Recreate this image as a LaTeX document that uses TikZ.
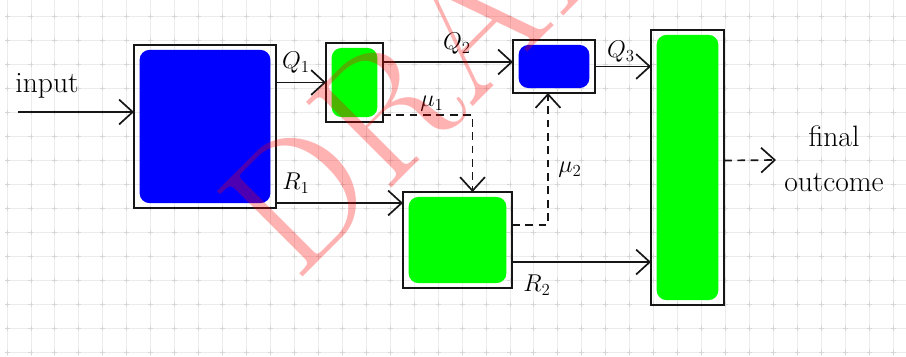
\documentclass[tikz,border=0pt]{standalone}
\usepackage{tikz}
\usetikzlibrary{arrows.meta,calc}
\definecolor{stift}{HTML}{161616}
\definecolor{blau}{HTML}{0000FF}
\definecolor{gruen}{HTML}{00FF00}
\definecolor{raster}{HTML}{ECECEC}
\definecolor{rasterk}{HTML}{D6D6D6}
\definecolor{entwurf}{HTML}{FF0000}
\tikzset{
  kasten/.style={draw=stift,line width=1.5pt,inner sep=0pt,outer sep=0pt},
  blaukasten/.style={kasten,path picture={\fill[blau,rounded corners=7pt]
      ([shift={(4pt,-3.5pt)}]path picture bounding box.north west) rectangle
      ([shift={(-4pt,3.5pt)}]path picture bounding box.south east);}},
  gruenkasten/.style={kasten,path picture={\fill[gruen,rounded corners=7pt]
      ([shift={(4pt,-3.5pt)}]path picture bounding box.north west) rectangle
      ([shift={(-4pt,3.5pt)}]path picture bounding box.south east);}},
  pfeil/.style={-{Straight Barb[length=3.4mm,width=6.2mm]},stift,line width=1.2pt},
  strich/.style={pfeil,dash pattern=on 5.5pt off 4pt},
  lbl/.style={inner sep=0pt,font=\fontsize{17}{17}\selectfont},
  hand/.style={inner sep=0pt,font=\fontsize{21}{32}\selectfont},
}

\begin{document}
\begin{tikzpicture}[x=0.025cm,y=-0.025cm]
  \clip (0,0) rectangle (906,356);
  \fill[white] (0,0) rectangle (906,356);
  \foreach \gx in {0,...,37}
    \draw[raster,line width=0.6pt] ({7+23.95*\gx},0) -- ({7+23.95*\gx},356);
  \foreach \gy in {0,...,14}
    \draw[raster,line width=0.6pt] (6,{16+24*\gy}) -- (906,{16+24*\gy});
  \foreach \gx in {0,...,37}
    \foreach \gy in {0,...,14}
      \draw[rasterk,line width=0.6pt] ({4.5+23.95*\gx},{16+24*\gy}) -- ++(5,0)
        ({7+23.95*\gx},{13.5+24*\gy}) -- ++(0,5);

  \node[blaukasten,minimum width=3.55cm,minimum height=4.075cm] (b1) at (205,126.5) {};
  \node[gruenkasten,minimum width=1.425cm,minimum height=1.975cm] (g1) at (354.5,82.5) {};
  \node[blaukasten,minimum width=2.05cm,minimum height=1.325cm] (b2) at (554,66.5) {};
  \node[gruenkasten,minimum width=2.725cm,minimum height=2.4cm] (g2) at (457.5,240) {};
  \node[gruenkasten,minimum width=1.825cm,minimum height=6.875cm] (g3) at (687.5,167.5) {};

  \coordinate (ein) at (18,112);
  \coordinate (q2) at ($(g1.north east)+(0,19)$);
  \coordinate (r1) at ($(g2.north west)+(0,11)$);
  \coordinate (r2) at ($(g2.south east)+(0,-26)$);
  \coordinate (m1) at ($(g1.south east)+(0,-7)$);
  \coordinate (m1z) at ($(g2.north)+(15,0)$);
  \coordinate (m2) at ($(g2.north east)+(0,33)$);
  \coordinate (m2z) at ($(b2.south)+(-6,0)$);
  \coordinate (aus) at ($(g3.east)+(0,-7)$);
  \coordinate (ende) at (776,160);

  \draw[pfeil] (ein) -- (ein -| b1.west);
  \draw[pfeil] (g1.west -| b1.east) -- (g1.west);
  \draw[pfeil] (q2) -- (q2 -| b2.west);
  \draw[pfeil] (b2.east) -- (b2.east -| g3.west);
  \draw[pfeil] (r1 -| b1.east) -- (r1);
  \draw[pfeil] (r2) -- (r2 -| g3.west);
  \draw[strich] (m1) -| (m1z);
  \draw[strich] (m2) -| (m2z);
  \draw[strich] (aus) -- (ende);

  \node[hand] (inp) at (47,86) {input};
  \node[lbl] (lq1) at (296,63) {$Q_1$};
  \node[lbl] (lq2) at (457,44) {$Q_2$};
  \node[lbl] (lq3) at (621,52) {$Q_3$};
  \node[lbl] (lr1) at (296,183) {$R_1$};
  \node[lbl] (lr2) at (537,285) {$R_2$};
  \node[lbl] (lm1) at (432,104) {$\mu_1$};
  \node[lbl] (lm2) at (570,170) {$\mu_2$};
  \node[hand,align=center] (fin) at (834,159) {final\\outcome};

  \node[rotate=45,text=entwurf,text opacity=0.3,inner sep=0pt,
    font=\fontsize{126}{126}\selectfont] (wz) at (463,30) {DRAFT};
\end{tikzpicture}
\end{document}
